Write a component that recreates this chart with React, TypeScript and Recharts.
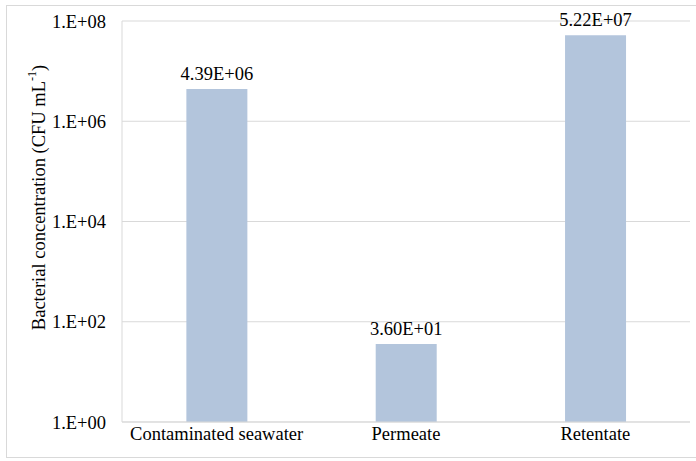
import React from 'react';
import {
  BarChart,
  Bar,
  XAxis,
  YAxis,
  CartesianGrid,
  LabelList,
} from 'recharts';

const categories = ['Contaminated seawater', 'Permeate', 'Retentate'];
const concentrations = [4.39e6, 3.6e1, 5.22e7];
const yTicks = [1, 1e2, 1e4, 1e6, 1e8];

const data = categories.map((name, i) => ({ name, value: concentrations[i] }));

const FONT = '"Liberation Serif", "Times New Roman", serif';
const GRID = '#d9d9d9';
const BAR = '#b3c5dc';

// Excel-like scientific format: 4.39E+06, 1.E+08
const sci = (v: number, digits: number) => {
  const [m, e] = v.toExponential(digits).split('e');
  const exp = Number(e);
  const sign = exp < 0 ? '-' : '+';
  const mant = digits === 0 ? m + '.' : m;
  return `${mant}E${sign}${String(Math.abs(exp)).padStart(2, '0')}`;
};

const YLabel = (props: any) => {
  const { viewBox } = props;
  const cx = viewBox.x + 17;
  const cy = viewBox.y + viewBox.height / 2 - 24;
  return (
    <text
      x={cx}
      y={cy}
      transform={`rotate(-90, ${cx}, ${cy})`}
      textAnchor="middle"
      dominantBaseline="central"
      fontFamily={FONT}
      fontSize={18.5}
      fill="#000"
    >
      <tspan>Bacterial concentration (CFU mL</tspan>
      <tspan dy={-7} fontSize={12}>-1</tspan>
      <tspan dy={7}>)</tspan>
    </text>
  );
};

export default function App() {
  return (
    <div style={{ position: 'absolute', left: 0, top: 0, width: 696, height: 461, background: '#fff' }}>
      <div
        style={{
          position: 'absolute',
          left: 6,
          top: 5,
          width: 700,
          height: 453,
          border: `1px solid ${GRID}`,
          boxSizing: 'border-box',
        }}
      />
      <div style={{ position: 'absolute', left: 0, top: 0 }}>
        <BarChart
          width={696}
          height={461}
          data={data}
          margin={{ top: 21, right: 6, bottom: 9, left: 22 }}
          barCategoryGap="34%"
        >
          <CartesianGrid vertical={false} stroke={GRID} yAxisId="left" />
          <XAxis
            dataKey="name"
            height={30}
            axisLine={{ stroke: GRID }}
            tickLine={false}
            tickSize={0}
            tickMargin={5}
            tick={{ fill: '#000', fontSize: 18.5, fontFamily: FONT }}
            interval={0}
          />
          <YAxis
            yAxisId="left"
            scale="log"
            domain={[1, 1e8]}
            ticks={yTicks}
            allowDataOverflow
            width={100}
            axisLine={{ stroke: GRID }}
            tickLine={false}
            tickSize={0}
            tickMargin={16}
            tickFormatter={(v: number) => sci(v, 0)}
            tick={{ fill: '#000', fontSize: 18.5, fontFamily: FONT }}
            label={<YLabel />}
          />
          <YAxis
            yAxisId="right"
            orientation="right"
            scale="log"
            domain={[1, 1e8]}
            width={0}
            tick={false}
            tickLine={false}
            axisLine={{ stroke: GRID }}
          />
          <Bar dataKey="value" yAxisId="left" fill={BAR} isAnimationActive={false}>
            <LabelList
              dataKey="value"
              position="top"
              offset={9}
              formatter={(v: any) => sci(Number(v), 2)}
              style={{ fill: '#000', fontSize: 18.5, fontFamily: FONT }}
            />
          </Bar>
        </BarChart>
      </div>
    </div>
  );
}
